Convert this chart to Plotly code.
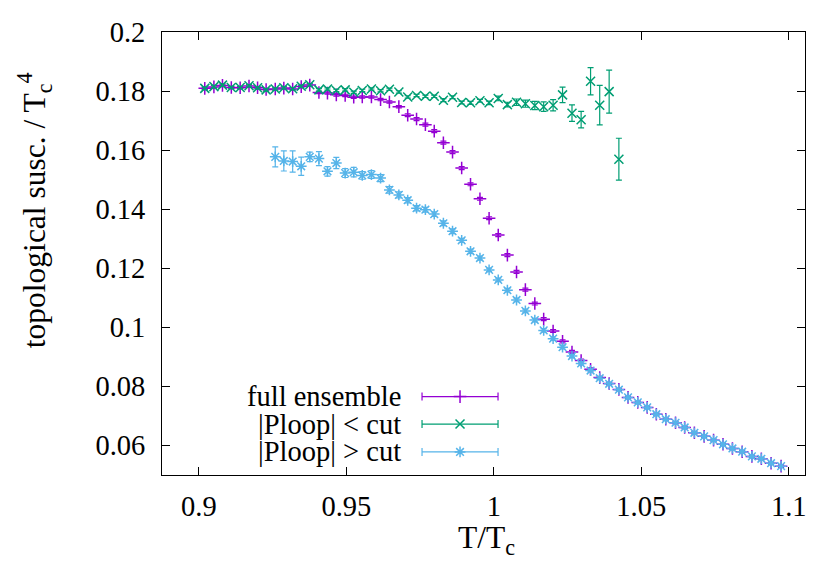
import plotly.graph_objects as go

# ---------------- data ----------------
T_all = [0.9020, 0.9051, 0.9080, 0.9110, 0.9140, 0.9170, 0.9199, 0.9228, 0.9259, 0.9288,
         0.9318, 0.9347, 0.9376, 0.9407, 0.9436, 0.9466, 0.9496, 0.9525, 0.9554, 0.9585,
         0.9616, 0.9646, 0.9678, 0.9708, 0.9738, 0.9768, 0.9798, 0.9829, 0.9860, 0.9891,
         0.9921, 0.9953, 0.9984, 1.0015, 1.0046, 1.0077, 1.0107, 1.0139, 1.0169, 1.0201,
         1.0233, 1.0265, 1.0296, 1.0328, 1.0359, 1.0391, 1.0424, 1.0455, 1.0488, 1.0520,
         1.0551, 1.0583, 1.0616, 1.0647, 1.0680, 1.0713, 1.0745, 1.0777, 1.0809, 1.0842,
         1.0875, 1.0907, 1.0940, 1.0974]

full_T = T_all
full_y = [0.1810, 0.1815, 0.1820, 0.1813, 0.1812, 0.1818, 0.1812, 0.1806, 0.1808, 0.1811,
          0.1808, 0.1816, 0.1821,
          0.1796, 0.1794, 0.1788, 0.1786, 0.1780, 0.1781, 0.1781, 0.1772, 0.1764, 0.1748,
          0.1719, 0.1706, 0.1687, 0.1665, 0.1626, 0.1594, 0.1540, 0.1485, 0.1436, 0.1370,
          0.1313, 0.1245, 0.1188, 0.1128, 0.1081, 0.1028, 0.0988, 0.0953, 0.0917, 0.0888,
          0.0858, 0.0830,
          0.0810, 0.0790, 0.0763, 0.0746, 0.0729, 0.0706, 0.0689, 0.0677, 0.0661, 0.0643,
          0.0631, 0.0618, 0.0604, 0.0590, 0.0579, 0.0563, 0.0555, 0.0540, 0.0530]
full_err = [0.0004, 0.0004, 0.0004, 0.0004, 0.0004, 0.0004, 0.0004, 0.0004, 0.0004, 0.0004,
            0.0004, 0.0004, 0.0004, 0.0004, 0.0004, 0.0004, 0.0004, 0.0004, 0.0004, 0.0004,
            0.0004, 0.0004, 0.0004, 0.0005, 0.0005, 0.0005, 0.0005, 0.0005, 0.0005, 0.0005,
            0.0005, 0.0005, 0.0005, 0.0005, 0.0005, 0.0005, 0.0005, 0.0005, 0.0005, 0.0005,
            0.0005, 0.0005, 0.0005, 0.0005, 0.0004, 0.0004, 0.0004, 0.0004, 0.0004, 0.0004,
            0.0004, 0.0004, 0.0004, 0.0004, 0.0004, 0.0004, 0.0004, 0.0004, 0.0004, 0.0004,
            0.0004, 0.0004, 0.0004, 0.0004]

low_T = T_all[:47]
low_y = [0.1810, 0.1816, 0.1821, 0.1813, 0.1813, 0.1819, 0.1812, 0.1805, 0.1808, 0.1812,
         0.1809, 0.1817, 0.1822,
         0.1805, 0.1808, 0.1803, 0.1805, 0.1797, 0.1803, 0.1808, 0.1802, 0.1807, 0.1798,
         0.1781, 0.1786, 0.1783, 0.1783, 0.1770, 0.1780, 0.1762, 0.1761, 0.1768, 0.1761,
         0.1776, 0.1755, 0.1763, 0.1758, 0.1752, 0.1748, 0.1753, 0.1788, 0.1726, 0.1704,
         0.1834, 0.1753, 0.1799, 0.1570]
low_err = [0.0004, 0.0004, 0.0004, 0.0004, 0.0004, 0.0004, 0.0004, 0.0004, 0.0004, 0.0004,
           0.0004, 0.0004, 0.0004, 0.0004, 0.0004, 0.0004, 0.0004, 0.0004, 0.0004, 0.0004,
           0.0004, 0.0004, 0.0004, 0.0004, 0.0004, 0.0004, 0.0004, 0.0005, 0.0005, 0.0005,
           0.0005, 0.0005, 0.0006, 0.0008, 0.0008, 0.0011, 0.0012, 0.0014, 0.0016, 0.0019,
           0.0026, 0.0028, 0.0028, 0.0046, 0.0067, 0.0073, 0.0071]

high_T = T_all[8:]
high_y = [0.1578, 0.1564, 0.1562, 0.1546, 0.1578, 0.1572, 0.1529, 0.1557, 0.1523, 0.1526,
          0.1515, 0.1518, 0.1506,
          0.1466, 0.1449, 0.1431, 0.1404, 0.1399, 0.1384, 0.1353, 0.1326, 0.1295, 0.1258,
          0.1235, 0.1195,
          0.1161, 0.1126, 0.1093, 0.1056, 0.1025, 0.0990, 0.0962, 0.0933, 0.0903, 0.0878,
          0.0854, 0.0828,
          0.0809, 0.0789, 0.0763, 0.0746, 0.0729, 0.0706, 0.0689, 0.0677, 0.0661, 0.0643,
          0.0631, 0.0618, 0.0604, 0.0590, 0.0579, 0.0563, 0.0555, 0.0540, 0.0530]
high_err = [0.0034, 0.0034, 0.0036, 0.0031, 0.0016, 0.0024, 0.0016, 0.0019, 0.0015, 0.0016,
            0.0013, 0.0013, 0.0012, 0.0011, 0.0010,
            0.0009, 0.0009, 0.0008, 0.0008, 0.0008, 0.0008, 0.0007, 0.0007, 0.0007,
            0.0006, 0.0006, 0.0006, 0.0006, 0.0006, 0.0006, 0.0006, 0.0006, 0.0006,
            0.0005, 0.0005, 0.0005, 0.0005, 0.0005, 0.0005, 0.0005, 0.0005, 0.0005, 0.0005,
            0.0005, 0.0005, 0.0005, 0.0005, 0.0005, 0.0005, 0.0005, 0.0005, 0.0005, 0.0005,
            0.0005, 0.0005]

series_names = ["full ensemble", "|Ploop| < cut", "|Ploop| > cut"]
series_colors = ["#9400D3", "#009E73", "#56B4E9"]
series_symbols = ["cross-thin", "x-thin", "asterisk"]

x_ticks = [0.9, 0.95, 1.0, 1.05, 1.1]
x_ticktext = ["0.9", "0.95", "1", "1.05", "1.1"]
y_ticks = [0.06, 0.08, 0.10, 0.12, 0.14, 0.16, 0.18, 0.20]
y_ticktext = ["0.06", "0.08", "0.1", "0.12", "0.14", "0.16", "0.18", "0.2"]

FONT = "Liberation Serif"
FS = 28.5
FS_TITLE = 31.5

fig = go.Figure()

datasets = [(full_T, full_y, full_err), (low_T, low_y, low_err), (high_T, high_y, high_err)]
for (xs, ys, es), name, col, sym in zip(datasets, series_names, series_colors, series_symbols):
    fig.add_trace(go.Scatter(
        x=xs, y=ys, mode="markers", name=name, showlegend=False,
        marker=dict(symbol=sym, size=9, color=col, line=dict(color=col, width=1.5)),
        error_y=dict(type="data", array=es, visible=True, color=col, thickness=1.2, width=3),
        cliponaxis=False,
    ))

# gnuplot-style key: text right-aligned, then a sample errorbar with the point symbol
key_rows = [0.177, 0.115, 0.052]
key_cx = 0.4635
key_half = 0.0591
for name, col, sym, ky in zip(series_names, series_colors, series_symbols, key_rows):
    fig.add_trace(go.Scatter(
        x=[key_cx], y=[ky], mode="markers", xaxis="x2", yaxis="y2", showlegend=False,
        marker=dict(symbol=sym, size=9, color=col, line=dict(color=col, width=1.5)),
        error_x=dict(type="constant", value=key_half, visible=True, color=col, thickness=1.2, width=4),
        hoverinfo="skip",
    ))
    fig.add_annotation(x=0.3743, y=ky, xref="x2", yref="y2", text=name, showarrow=False,
                       xanchor="right", yanchor="middle",
                       font=dict(family=FONT, size=FS, color="black"))

# axis titles (placed like gnuplot's labels)
fig.add_annotation(x=0.5054, y=-0.147, xref="paper", yref="paper", text="T/T<sub>c</sub>",
                   showarrow=False, xanchor="center", yanchor="middle",
                   font=dict(family=FONT, size=FS_TITLE, color="black"))
fig.add_annotation(x=-0.199, y=0.598, xref="paper", yref="paper",
                   text="topological susc. / T<sub>c</sub><sup>4</sup>", textangle=-90,
                   showarrow=False, xanchor="center", yanchor="middle",
                   font=dict(family=FONT, size=FS_TITLE, color="black"))

axis_common = dict(showline=True, linecolor="black", linewidth=1, mirror="allticks",
                   ticks="inside", ticklen=8, tickwidth=1, tickcolor="black",
                   showgrid=False, zeroline=False,
                   tickfont=dict(family=FONT, size=FS, color="black"))

fig.update_layout(
    width=815, height=562,
    margin=dict(l=154, r=18, t=9, b=95),
    paper_bgcolor="white", plot_bgcolor="white",
    font=dict(family=FONT, size=FS, color="black"),
    xaxis=dict(range=[0.8875, 1.1055], tickvals=x_ticks, ticktext=x_ticktext,
               ticklabelstandoff=6, **axis_common),
    yaxis=dict(range=[0.05, 0.2001], tickvals=y_ticks, ticktext=y_ticktext,
               ticklabelstandoff=10, ticklabeloverflow="allow", **axis_common),
    xaxis2=dict(overlaying="x", range=[0, 1], visible=False, anchor="y2"),
    yaxis2=dict(overlaying="y", range=[0, 1], visible=False, anchor="x2"),
    showlegend=False,
)

fig.write_html("out.html")
